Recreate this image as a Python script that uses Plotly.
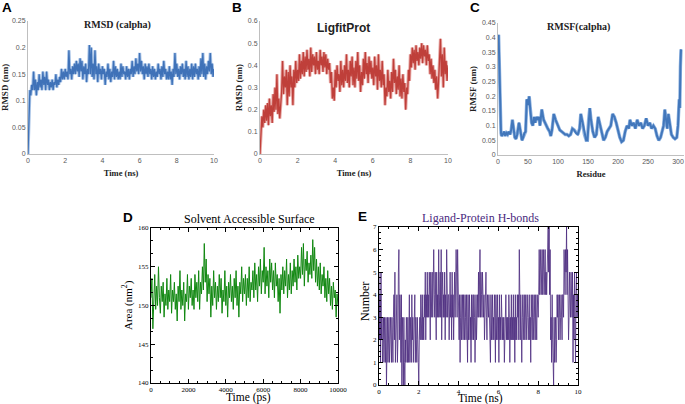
import numpy as np
import plotly.graph_objects as go

W, H = 685, 404

# ---------------- data ----------------
# A: RMSD (calpha), time step 0.05 ns
rmsd_ca = [
    0.0, 0.10, 0.12, 0.11, 0.13, 0.12, 0.155, 0.12, 0.14, 0.11,
    0.135, 0.12, 0.15, 0.125, 0.14, 0.12, 0.155, 0.13, 0.145, 0.12,
    0.155, 0.13, 0.14, 0.12, 0.135, 0.125, 0.14, 0.12, 0.135, 0.13,
    0.15, 0.125, 0.14, 0.13, 0.145, 0.135, 0.16, 0.14, 0.155, 0.14,
    0.16, 0.145, 0.155, 0.14, 0.195, 0.15, 0.16, 0.14, 0.165, 0.15,
    0.17, 0.15, 0.175, 0.155, 0.17, 0.145, 0.18, 0.155, 0.175, 0.14,
    0.165, 0.15, 0.17, 0.135, 0.16, 0.15, 0.205, 0.15, 0.2, 0.145,
    0.17, 0.14, 0.195, 0.15, 0.165, 0.135, 0.17, 0.15, 0.16, 0.14,
    0.165, 0.15, 0.16, 0.13, 0.155, 0.145, 0.17, 0.14, 0.16, 0.135,
    0.155, 0.145, 0.175, 0.14, 0.165, 0.145, 0.16, 0.14, 0.155, 0.14,
    0.17, 0.145, 0.165, 0.15, 0.155, 0.14, 0.165, 0.145, 0.16, 0.14,
    0.16, 0.15, 0.175, 0.145, 0.165, 0.15, 0.18, 0.155, 0.17, 0.15,
    0.19, 0.155, 0.175, 0.15, 0.165, 0.14, 0.17, 0.15, 0.165, 0.145,
    0.17, 0.15, 0.16, 0.14, 0.165, 0.145, 0.16, 0.14, 0.155, 0.145,
    0.17, 0.15, 0.16, 0.14, 0.165, 0.145, 0.175, 0.15, 0.16, 0.14,
    0.155, 0.14, 0.165, 0.14, 0.155, 0.13, 0.16, 0.145, 0.19, 0.15,
    0.17, 0.145, 0.16, 0.14, 0.165, 0.15, 0.17, 0.145, 0.16, 0.14,
    0.175, 0.145, 0.165, 0.14, 0.16, 0.145, 0.17, 0.14, 0.165, 0.145,
    0.17, 0.15, 0.16, 0.14, 0.165, 0.145, 0.18, 0.15, 0.19, 0.145,
    0.17, 0.14, 0.165, 0.15, 0.175, 0.155, 0.19, 0.15, 0.17, 0.145,
    0.16,
]

# B: LigfitProt RMSD, time step 0.05 ns
rmsd_lig = [
    0.0, 0.10, 0.17, 0.12, 0.20, 0.14, 0.22, 0.15, 0.23, 0.13,
    0.25, 0.17, 0.22, 0.14, 0.27, 0.19, 0.30, 0.20, 0.36, 0.18,
    0.25, 0.16, 0.22, 0.28, 0.42, 0.27, 0.35, 0.30, 0.38, 0.22,
    0.37, 0.26, 0.40, 0.30, 0.35, 0.22, 0.38, 0.30, 0.42, 0.32,
    0.38, 0.33, 0.45, 0.34, 0.42, 0.36, 0.46, 0.35, 0.44, 0.37,
    0.47, 0.38, 0.43, 0.35, 0.48, 0.37, 0.45, 0.40, 0.44, 0.36,
    0.46, 0.38, 0.42, 0.36, 0.47, 0.40, 0.44, 0.37, 0.46, 0.39,
    0.45, 0.36, 0.43, 0.38, 0.41, 0.32, 0.37, 0.25, 0.30, 0.24,
    0.38, 0.30, 0.40, 0.33, 0.36, 0.28, 0.42, 0.31, 0.38, 0.30,
    0.40, 0.33, 0.45, 0.32, 0.38, 0.30, 0.42, 0.35, 0.44, 0.31,
    0.39, 0.30, 0.42, 0.34, 0.46, 0.33, 0.40, 0.28, 0.37, 0.31,
    0.43, 0.34, 0.46, 0.36, 0.41, 0.32, 0.44, 0.36, 0.42, 0.34,
    0.39, 0.31, 0.44, 0.35, 0.40, 0.29, 0.45, 0.33, 0.38, 0.30,
    0.42, 0.31, 0.36, 0.22, 0.30, 0.26, 0.38, 0.28, 0.33, 0.25,
    0.37, 0.28, 0.43, 0.32, 0.38, 0.27, 0.35, 0.29, 0.40, 0.26,
    0.34, 0.25, 0.36, 0.28, 0.32, 0.20, 0.30, 0.27, 0.38, 0.33,
    0.45, 0.39, 0.48, 0.41, 0.47, 0.38, 0.49, 0.42, 0.46, 0.40,
    0.48, 0.43, 0.50, 0.41, 0.49, 0.44, 0.47, 0.40, 0.49, 0.42,
    0.45, 0.36, 0.43, 0.34, 0.40, 0.32, 0.38, 0.29, 0.35, 0.25,
    0.33, 0.42, 0.52, 0.35, 0.45, 0.30, 0.48, 0.36, 0.42, 0.33,
    0.40,
]

# C: RMSF per residue
residues = [1, 2, 3, 4, 5, 6, 8, 10, 12, 14, 16, 18, 20, 22, 24, 26, 28, 30, 32,
            35, 38, 40, 42, 44, 46, 48, 50, 52, 54, 56, 58, 60, 62, 64, 66, 68, 70,
            73, 76, 78, 80, 83, 86, 88, 90, 93, 96, 98, 100,
            103, 106, 109, 112, 115, 118, 121, 124, 127, 130, 133, 136, 138, 141, 144,
            147, 149, 151, 153, 155, 158, 161, 164, 167, 170, 173, 176, 179, 182, 185,
            188, 191, 194, 197, 200,
            203, 206, 209, 212, 215, 218, 220, 223, 226, 229, 232, 235, 238, 241, 244,
            247, 250,
            253, 256, 259, 262, 265, 268, 271, 274, 276, 278, 280, 282, 284, 286, 289,
            292, 295, 298, 300, 302, 303, 304, 305]
rmsf = [0.41, 0.30, 0.18, 0.10, 0.075, 0.065, 0.07, 0.08, 0.065, 0.075, 0.07, 0.08, 0.07,
        0.085, 0.12, 0.09, 0.06, 0.055, 0.07,
        0.11, 0.08, 0.05, 0.06, 0.075, 0.08, 0.19, 0.17, 0.20, 0.15, 0.11, 0.10, 0.13, 0.11,
        0.13, 0.12, 0.13, 0.10,
        0.155, 0.12, 0.11, 0.10, 0.09, 0.08, 0.065, 0.085, 0.14, 0.12, 0.11, 0.10,
        0.085, 0.08, 0.075, 0.07, 0.07, 0.065, 0.07, 0.09, 0.085, 0.075, 0.07, 0.09, 0.14,
        0.11, 0.07, 0.05, 0.05, 0.12, 0.16, 0.12, 0.08, 0.06, 0.07, 0.13, 0.10, 0.07, 0.05,
        0.06, 0.08, 0.09, 0.10, 0.14, 0.13, 0.11, 0.08,
        0.06, 0.045, 0.05, 0.08, 0.10, 0.09, 0.12, 0.10, 0.11, 0.09, 0.12, 0.10, 0.11, 0.09,
        0.10, 0.125, 0.10,
        0.11, 0.09, 0.10, 0.09, 0.065, 0.05, 0.06, 0.08, 0.10, 0.155, 0.11, 0.09, 0.14, 0.11,
        0.07, 0.06, 0.055, 0.06, 0.10, 0.19, 0.16, 0.30, 0.36]

# D: Solvent accessible surface (nm^2), time step 50 ps
sasa = [
    151.0, 153.5, 147.0, 150.5, 154.0, 149.5, 152.5, 150.0, 155.0, 151.0,
    149.0, 152.5, 150.5, 153.0, 148.5, 151.5, 150.0, 153.5, 149.5, 152.0,
    150.5, 154.0, 149.0, 152.0, 150.5, 153.0, 149.5, 151.5, 148.0, 152.5,
    150.5, 154.5, 149.5, 152.0, 150.0, 153.0, 148.0, 151.5, 150.5, 154.0,
    149.5, 152.5, 151.0, 153.5, 150.0, 152.0, 149.5, 154.0, 151.0, 153.0,
    150.5, 154.5, 149.5, 153.0, 151.5, 155.0, 152.0, 158.0, 153.0, 156.0,
    150.5, 154.0, 151.5, 153.5, 148.5, 152.5, 150.0, 154.5, 151.0, 153.0,
    149.5, 152.5, 150.5, 154.0, 151.0, 153.5, 149.0, 152.0, 150.5, 154.5,
    150.0, 152.5, 148.5, 153.0, 151.0, 154.0, 150.5, 152.5, 149.5, 153.5,
    151.0, 154.5, 150.0, 152.5, 148.5, 153.0, 151.5, 155.0, 150.5, 153.5,
    151.5, 154.0, 150.0, 153.5, 151.0, 155.0, 150.5, 153.0, 152.0, 154.5,
    151.0, 155.5, 152.0, 154.0, 150.5, 155.0, 152.5, 156.0, 151.5, 154.5,
    153.0, 157.5, 151.5, 155.0, 152.5, 154.5, 151.0, 156.0, 153.0, 155.5,
    152.0, 154.5, 151.0, 155.5, 152.5, 154.0, 150.5, 153.5, 149.0, 154.0,
    152.0, 155.0, 151.5, 154.5, 152.5, 156.0, 151.0, 154.0, 152.0, 155.5,
    151.5, 154.5, 152.5, 156.0, 153.0, 155.0, 152.0, 156.5, 153.5, 155.0,
    153.5, 157.5, 154.0, 158.0, 152.5, 156.0, 154.5, 157.0, 153.0, 155.5,
    154.0, 156.5, 153.5, 158.5, 154.5, 157.5, 153.0, 156.0, 152.5, 155.0,
    152.0, 155.5, 151.5, 154.0, 152.5, 155.0, 151.0, 153.5, 150.5, 154.5,
    151.5, 153.5, 150.0, 152.5, 149.5, 153.0, 151.0, 152.0, 148.5, 151.5,
    150.0,
]

# E: Ligand-protein H-bonds, time step 0.025 ns
hbonds = [
    5, 2, 4, 1, 5, 2, 3, 1, 2, 3,
    1, 3, 2, 1, 3, 0, 2, 3, 1, 2,
    3, 1, 2, 3, 2, 1, 3, 2, 1, 3,
    4, 2, 5, 1, 3, 2, 4, 1, 2, 5,
    6, 2, 4, 3, 1, 4, 0, 3, 2, 0,
    3, 1, 0, 2, 1, 3, 2, 1, 3, 1,
    2, 4, 1, 3, 2, 1, 4, 2, 3, 1,
    3, 2, 4, 1, 3, 2, 1, 3, 2, 1,
    0, 2, 3, 2, 4, 3, 2, 4, 2, 3,
    2, 4, 3, 5, 2, 4, 3, 5, 3, 4,
    3, 5, 4, 2, 5, 3, 4, 5, 3, 4,
    6, 4, 3, 5, 4, 2, 5, 3, 4, 3,
    6, 3, 4, 5, 3, 6, 2, 4, 5, 3,
    4, 3, 5, 2, 4, 3, 6, 4, 3, 4,
    4, 2, 3, 5, 3, 4, 2, 5, 3, 4,
    2, 3, 5, 3, 4, 6, 5, 3, 6, 4,
    3, 2, 4, 1, 3, 4, 2, 3, 4, 2,
    4, 3, 2, 4, 3, 2, 4, 3, 1, 4,
    2, 3, 4, 2, 3, 1, 4, 2, 3, 4,
    2, 4, 3, 1, 3, 4, 2, 3, 4, 3,
    5, 3, 4, 6, 3, 5, 4, 3, 5, 4,
    3, 4, 2, 3, 4, 5, 3, 2, 4, 3,
    3, 4, 2, 3, 1, 4, 2, 3, 4, 2,
    3, 2, 4, 3, 1, 4, 2, 3, 4, 2,
    3, 1, 4, 2, 3, 2, 4, 3, 2, 3,
    2, 3, 1, 3, 2, 4, 2, 3, 2, 3,
    2, 4, 3, 1, 3, 2, 4, 2, 3, 2,
    4, 2, 3, 1, 4, 2, 3, 2, 4, 3,
    4, 2, 6, 3, 2, 4, 3, 1, 3, 4,
    2, 3, 4, 2, 3, 4, 2, 3, 4, 3,
    2, 3, 4, 2, 3, 1, 4, 3, 2, 4,
    3, 2, 4, 3, 2, 4, 3, 2, 4, 3,
    3, 4, 6, 4, 5, 6, 4, 5, 6, 4,
    5, 6, 4, 5, 6, 4, 5, 4, 6, 5,
    7, 5, 7, 4, 6, 2, 3, 1, 4, 2,
    1, 0, 3, 1, 2, 3, 1, 2, 4, 3,
    4, 2, 3, 4, 2, 3, 4, 3, 2, 4,
    4, 3, 6, 5, 4, 6, 5, 7, 4, 6,
    4, 2, 3, 5, 4, 3, 5, 4, 3, 5,
    1, 4, 2, 5, 3, 1, 4, 5, 3, 4,
    3,
]

t_ns = np.arange(len(rmsd_ca)) * 0.05
t_ns_b = np.arange(len(rmsd_lig)) * 0.05
t_ps = np.arange(len(sasa)) * 50
t_hb = np.arange(len(hbonds)) * 0.025


def xd(a, b):
    return [a / W, b / W]


def yd(top, bot):
    return [1 - bot / H, 1 - top / H]


fig = go.Figure()

# A
fig.add_trace(go.Scatter(x=t_ns, y=rmsd_ca, mode="lines", xaxis="x", yaxis="y",
                         line=dict(color="#a6c2e6", width=3.2), hoverinfo="skip"))
fig.add_trace(go.Scatter(x=t_ns, y=rmsd_ca, mode="lines", xaxis="x", yaxis="y",
                         line=dict(color="#3f72b8", width=1.3)))
# B
fig.add_trace(go.Scatter(x=t_ns_b, y=rmsd_lig, mode="lines", xaxis="x2", yaxis="y2",
                         line=dict(color="#e8a9a6", width=3.2), hoverinfo="skip"))
fig.add_trace(go.Scatter(x=t_ns_b, y=rmsd_lig, mode="lines", xaxis="x2", yaxis="y2",
                         line=dict(color="#bf3f3a", width=1.3)))
# C
fig.add_trace(go.Scatter(x=residues, y=rmsf, mode="lines", xaxis="x3", yaxis="y3",
                         line=dict(color="#8fb3e0", width=3.4), hoverinfo="skip"))
fig.add_trace(go.Scatter(x=residues, y=rmsf, mode="lines", xaxis="x3", yaxis="y3",
                         line=dict(color="#4277bb", width=2.0)))
# D
fig.add_trace(go.Scatter(x=t_ps, y=sasa, mode="lines", xaxis="x4", yaxis="y4",
                         line=dict(color="#118811", width=1.0)))
# E
fig.add_trace(go.Scatter(x=t_hb, y=hbonds, mode="lines", xaxis="x5", yaxis="y5",
                         line=dict(color="#4a2a7e", width=0.8)))

excel_tick = dict(family="Liberation Sans Narrow, Arial Narrow, Arial", size=7, color="#595959")
excel_title = dict(family="Liberation Serif, Times New Roman, serif", size=8.5, color="#222222")
grace_tick = dict(family="Liberation Serif, Times New Roman, serif", size=7, color="#000000")


def excel_x(domain, rng, dtick, anchor, title):
    return dict(domain=domain, range=rng, dtick=dtick, tick0=0, anchor=anchor,
                automargin=False,
                showline=True, linecolor="#bfbfbf", linewidth=1, showgrid=False,
                zeroline=False, ticks="", tickfont=excel_tick,
                title=dict(text="<b>" + title + "</b>", font=excel_title, standoff=6))


def excel_y(domain, rng, dtick, anchor, title):
    return dict(domain=domain, range=rng, dtick=dtick, tick0=0, anchor=anchor,
                automargin=False,
                showline=True, linecolor="#bfbfbf", linewidth=1, showgrid=False,
                zeroline=False, ticks="", tickfont=excel_tick,
                title=dict(text="<b>" + title + "</b>",
                           font=dict(excel_title, size=9), standoff=3))


def grace_ax(domain, rng, dtick, minor, anchor):
    return dict(domain=domain, range=rng, dtick=dtick, tick0=rng[0], anchor=anchor,
                automargin=False, tickformat="d",
                showline=True, linecolor="#000000", linewidth=1, mirror="ticks",
                showgrid=False, zeroline=False, ticks="inside", ticklen=4,
                tickwidth=0.8, tickcolor="#000000", tickfont=grace_tick,
                minor=dict(dtick=minor, ticks="inside", ticklen=2, tickcolor="#000000",
                           tickwidth=0.8, showgrid=False))


fig.update_layout(
    width=W, height=H, margin=dict(l=0, r=0, t=0, b=0),
    paper_bgcolor="white", plot_bgcolor="white", showlegend=False,
    xaxis=excel_x(xd(28, 214), [0, 10], 2, "y", "Time (ns)"),
    yaxis=excel_y(yd(21, 154), [0, 0.25], 0.05, "x", "RMSD (nm)"),
    xaxis2=excel_x(xd(260, 448), [0, 10], 2, "y2", "Time (ns)"),
    yaxis2=excel_y(yd(21, 154), [0, 0.6], 0.1, "x2", "RMSD (nm)"),
    xaxis3=excel_x(xd(498, 684), [0, 310], 50, "y3", "Residue"),
    yaxis3=excel_y(yd(23, 155), [0, 0.45], 0.05, "x3", "RMSF (nm)"),
    xaxis4=grace_ax(xd(151, 338), [0, 10000], 2000, 500, "y4"),
    yaxis4=grace_ax(yd(228, 383), [140, 160], 5, 5 / 3, "x4"),
    xaxis5=grace_ax(xd(379, 578), [0, 10], 2, 0.5, "y5"),
    yaxis5=grace_ax(yd(227, 385), [0, 7], 1, 0.25, "x5"),
)


def ann(text, px, py, font, **kw):
    fig.add_annotation(text=text, x=px / W, y=1 - py / H, xref="paper", yref="paper",
                       showarrow=False, xanchor="center", yanchor="middle", font=font, **kw)


serif = "Liberation Serif, Times New Roman, serif"
letter_font = dict(family="Liberation Sans, Arial, sans-serif", size=13.5, color="#000000")
ann("<b>A</b>", 7, 7, letter_font)
ann("<b>B</b>", 237, 7, letter_font)
ann("<b>C</b>", 475, 7, letter_font)
ann("<b>D</b>", 128, 217, letter_font)
ann("<b>E</b>", 362, 216, letter_font)

times_b = dict(family=serif, size=10, color="#222222")
ann("<b>RMSD (calpha)</b>", 117, 25, times_b)
ann("<b>LigfitProt</b>", 343, 28, dict(family="Liberation Sans, Arial, sans-serif", size=12, color="#222222"))
ann("<b>RMSF(calpha)</b>", 578, 27, times_b)
ann("Solvent Accessible Surface", 249, 219, dict(family=serif, size=12, color="#000000"))
ann("Ligand-Protein H-bonds", 480, 218, dict(family=serif, size=12, color="#4a2a7e"))

# Grace-style axis titles for D and E
ann("Time (ps)", 248, 397.5, dict(family=serif, size=11.5, color="#000000"))
ann("Area (nm<sup>2</sup>)", 127, 305, dict(family=serif, size=11, color="#000000"), textangle=-90)
ann("Time (ns)", 480, 398, dict(family=serif, size=11.5, color="#000000"))
ann("Number", 365, 302, dict(family=serif, size=12, color="#000000"), textangle=-90)

fig.write_html("out.html", config={"displayModeBar": False},
               post_script="document.body.style.margin='0px';document.body.style.overflow='hidden';")
